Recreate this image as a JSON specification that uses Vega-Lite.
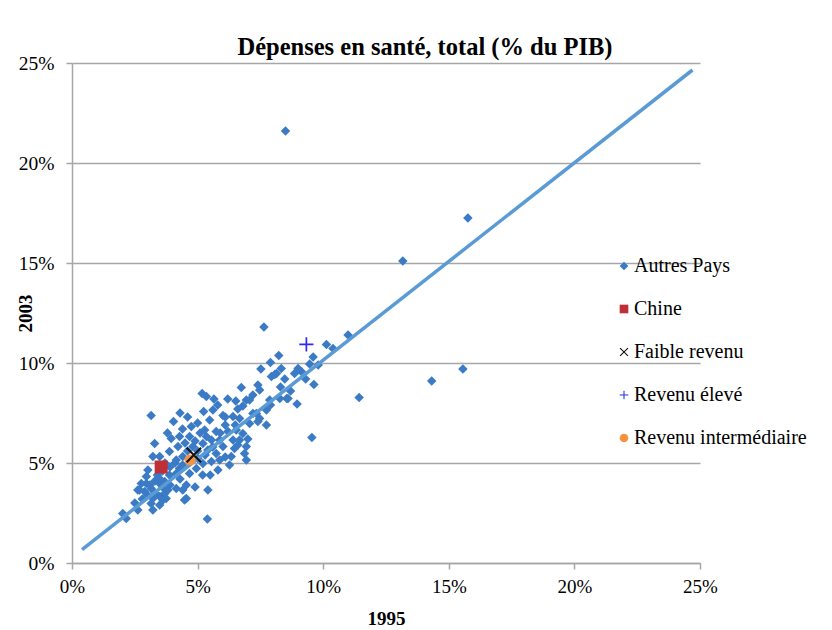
{
  "$schema": "https://vega.github.io/schema/vega-lite/v6.json",
  "width": 628,
  "height": 500,
  "autosize": {"type": "none"},
  "padding": {"left": 72, "top": 63, "right": 132, "bottom": 67},
  "background": "white",
  "config": {
    "view": {"stroke": null},
    "font": "Liberation Serif"
  },
  "title": {
    "text": "Dépenses en santé, total (% du PIB)",
    "font": "Liberation Serif",
    "fontSize": 24.5,
    "fontWeight": "bold",
    "color": "black",
    "anchor": "middle",
    "dx": 39,
    "offset": -7
  },
  "datasets": {
    "points": [
      {"groupe": "Autres Pays", "x1995": 8.5, "y2003": 21.6},
      {"groupe": "Autres Pays", "x1995": 15.76, "y2003": 17.25},
      {"groupe": "Autres Pays", "x1995": 13.17, "y2003": 15.1},
      {"groupe": "Autres Pays", "x1995": 14.32, "y2003": 9.1},
      {"groupe": "Autres Pays", "x1995": 15.56, "y2003": 9.7},
      {"groupe": "Autres Pays", "x1995": 11.43, "y2003": 8.27},
      {"groupe": "Autres Pays", "x1995": 9.55, "y2003": 6.27},
      {"groupe": "Autres Pays", "x1995": 10.99, "y2003": 11.4},
      {"groupe": "Autres Pays", "x1995": 10.13, "y2003": 10.93},
      {"groupe": "Autres Pays", "x1995": 10.39, "y2003": 10.73},
      {"groupe": "Autres Pays", "x1995": 7.64, "y2003": 11.8},
      {"groupe": "Autres Pays", "x1995": 5.39, "y2003": 2.2},
      {"groupe": "Autres Pays", "x1995": 3.15, "y2003": 7.37},
      {"groupe": "Autres Pays", "x1995": 8.23, "y2003": 10.37},
      {"groupe": "Autres Pays", "x1995": 7.9, "y2003": 10.03},
      {"groupe": "Autres Pays", "x1995": 9.6, "y2003": 10.3},
      {"groupe": "Autres Pays", "x1995": 9.46, "y2003": 9.95},
      {"groupe": "Autres Pays", "x1995": 7.52, "y2003": 9.7},
      {"groupe": "Autres Pays", "x1995": 8.33, "y2003": 9.73},
      {"groupe": "Autres Pays", "x1995": 8.07, "y2003": 9.42},
      {"groupe": "Autres Pays", "x1995": 8.47, "y2003": 9.2},
      {"groupe": "Autres Pays", "x1995": 9.0, "y2003": 9.73},
      {"groupe": "Autres Pays", "x1995": 9.13, "y2003": 9.57},
      {"groupe": "Autres Pays", "x1995": 8.86, "y2003": 9.48},
      {"groupe": "Autres Pays", "x1995": 9.63, "y2003": 8.92},
      {"groupe": "Autres Pays", "x1995": 7.4, "y2003": 8.9},
      {"groupe": "Autres Pays", "x1995": 7.47, "y2003": 8.65},
      {"groupe": "Autres Pays", "x1995": 6.74, "y2003": 8.78},
      {"groupe": "Autres Pays", "x1995": 7.2, "y2003": 8.4},
      {"groupe": "Autres Pays", "x1995": 6.52, "y2003": 8.1},
      {"groupe": "Autres Pays", "x1995": 6.94, "y2003": 8.15},
      {"groupe": "Autres Pays", "x1995": 6.8, "y2003": 7.85},
      {"groupe": "Autres Pays", "x1995": 7.87, "y2003": 8.15},
      {"groupe": "Autres Pays", "x1995": 8.27, "y2003": 8.23},
      {"groupe": "Autres Pays", "x1995": 8.55, "y2003": 8.23},
      {"groupe": "Autres Pays", "x1995": 8.96, "y2003": 7.95},
      {"groupe": "Autres Pays", "x1995": 7.74, "y2003": 7.65},
      {"groupe": "Autres Pays", "x1995": 7.47, "y2003": 7.23},
      {"groupe": "Autres Pays", "x1995": 7.74, "y2003": 6.9},
      {"groupe": "Autres Pays", "x1995": 7.2, "y2003": 7.48},
      {"groupe": "Autres Pays", "x1995": 7.07, "y2003": 6.98},
      {"groupe": "Autres Pays", "x1995": 6.67, "y2003": 7.23},
      {"groupe": "Autres Pays", "x1995": 6.41, "y2003": 7.32},
      {"groupe": "Autres Pays", "x1995": 5.18, "y2003": 8.48},
      {"groupe": "Autres Pays", "x1995": 5.35, "y2003": 8.32},
      {"groupe": "Autres Pays", "x1995": 5.65, "y2003": 8.2},
      {"groupe": "Autres Pays", "x1995": 5.24, "y2003": 7.57},
      {"groupe": "Autres Pays", "x1995": 5.61, "y2003": 7.65},
      {"groupe": "Autres Pays", "x1995": 5.48, "y2003": 7.15},
      {"groupe": "Autres Pays", "x1995": 6.01, "y2003": 7.37},
      {"groupe": "Autres Pays", "x1995": 7.94, "y2003": 9.32},
      {"groupe": "Autres Pays", "x1995": 8.14, "y2003": 9.48},
      {"groupe": "Autres Pays", "x1995": 8.6, "y2003": 8.23},
      {"groupe": "Autres Pays", "x1995": 7.07, "y2003": 8.15},
      {"groupe": "Autres Pays", "x1995": 7.34, "y2003": 7.48},
      {"groupe": "Autres Pays", "x1995": 7.4, "y2003": 7.07},
      {"groupe": "Autres Pays", "x1995": 4.04, "y2003": 7.07},
      {"groupe": "Autres Pays", "x1995": 4.75, "y2003": 6.82},
      {"groupe": "Autres Pays", "x1995": 5.28, "y2003": 6.65},
      {"groupe": "Autres Pays", "x1995": 5.74, "y2003": 6.57},
      {"groupe": "Autres Pays", "x1995": 6.21, "y2003": 6.57},
      {"groupe": "Autres Pays", "x1995": 6.54, "y2003": 6.65},
      {"groupe": "Autres Pays", "x1995": 6.8, "y2003": 6.48},
      {"groupe": "Autres Pays", "x1995": 6.67, "y2003": 6.15},
      {"groupe": "Autres Pays", "x1995": 6.94, "y2003": 5.82},
      {"groupe": "Autres Pays", "x1995": 6.87, "y2003": 5.48},
      {"groupe": "Autres Pays", "x1995": 6.94, "y2003": 5.15},
      {"groupe": "Autres Pays", "x1995": 6.41, "y2003": 6.15},
      {"groupe": "Autres Pays", "x1995": 6.47, "y2003": 5.73},
      {"groupe": "Autres Pays", "x1995": 6.34, "y2003": 5.32},
      {"groupe": "Autres Pays", "x1995": 6.27, "y2003": 4.9},
      {"groupe": "Autres Pays", "x1995": 5.88, "y2003": 6.15},
      {"groupe": "Autres Pays", "x1995": 6.01, "y2003": 5.82},
      {"groupe": "Autres Pays", "x1995": 5.74, "y2003": 5.48},
      {"groupe": "Autres Pays", "x1995": 5.88, "y2003": 5.15},
      {"groupe": "Autres Pays", "x1995": 5.55, "y2003": 6.15},
      {"groupe": "Autres Pays", "x1995": 5.35, "y2003": 6.32},
      {"groupe": "Autres Pays", "x1995": 5.21, "y2003": 5.98},
      {"groupe": "Autres Pays", "x1995": 5.41, "y2003": 5.65},
      {"groupe": "Autres Pays", "x1995": 5.55, "y2003": 5.07},
      {"groupe": "Autres Pays", "x1995": 5.81, "y2003": 4.65},
      {"groupe": "Autres Pays", "x1995": 5.41, "y2003": 3.65},
      {"groupe": "Autres Pays", "x1995": 4.68, "y2003": 6.32},
      {"groupe": "Autres Pays", "x1995": 4.81, "y2003": 5.82},
      {"groupe": "Autres Pays", "x1995": 4.28, "y2003": 6.32},
      {"groupe": "Autres Pays", "x1995": 3.95, "y2003": 6.23},
      {"groupe": "Autres Pays", "x1995": 4.22, "y2003": 5.82},
      {"groupe": "Autres Pays", "x1995": 3.29, "y2003": 5.98},
      {"groupe": "Autres Pays", "x1995": 3.22, "y2003": 5.32},
      {"groupe": "Autres Pays", "x1995": 3.49, "y2003": 5.32},
      {"groupe": "Autres Pays", "x1995": 3.88, "y2003": 5.57},
      {"groupe": "Autres Pays", "x1995": 4.15, "y2003": 5.15},
      {"groupe": "Autres Pays", "x1995": 4.41, "y2003": 5.32},
      {"groupe": "Autres Pays", "x1995": 5.01, "y2003": 5.23},
      {"groupe": "Autres Pays", "x1995": 5.21, "y2003": 4.98},
      {"groupe": "Autres Pays", "x1995": 4.95, "y2003": 4.73},
      {"groupe": "Autres Pays", "x1995": 4.68, "y2003": 4.48},
      {"groupe": "Autres Pays", "x1995": 3.02, "y2003": 4.65},
      {"groupe": "Autres Pays", "x1995": 2.96, "y2003": 4.32},
      {"groupe": "Autres Pays", "x1995": 2.76, "y2003": 3.98},
      {"groupe": "Autres Pays", "x1995": 2.62, "y2003": 3.65},
      {"groupe": "Autres Pays", "x1995": 2.89, "y2003": 3.57},
      {"groupe": "Autres Pays", "x1995": 3.15, "y2003": 3.73},
      {"groupe": "Autres Pays", "x1995": 3.49, "y2003": 3.98},
      {"groupe": "Autres Pays", "x1995": 3.69, "y2003": 4.07},
      {"groupe": "Autres Pays", "x1995": 3.88, "y2003": 4.4},
      {"groupe": "Autres Pays", "x1995": 4.15, "y2003": 4.48},
      {"groupe": "Autres Pays", "x1995": 4.28, "y2003": 4.73},
      {"groupe": "Autres Pays", "x1995": 3.22, "y2003": 3.23},
      {"groupe": "Autres Pays", "x1995": 3.49, "y2003": 3.32},
      {"groupe": "Autres Pays", "x1995": 3.69, "y2003": 3.48},
      {"groupe": "Autres Pays", "x1995": 3.15, "y2003": 2.98},
      {"groupe": "Autres Pays", "x1995": 3.22, "y2003": 2.65},
      {"groupe": "Autres Pays", "x1995": 3.62, "y2003": 3.15},
      {"groupe": "Autres Pays", "x1995": 3.82, "y2003": 3.65},
      {"groupe": "Autres Pays", "x1995": 4.55, "y2003": 3.9},
      {"groupe": "Autres Pays", "x1995": 4.41, "y2003": 3.65},
      {"groupe": "Autres Pays", "x1995": 4.55, "y2003": 3.23},
      {"groupe": "Autres Pays", "x1995": 4.15, "y2003": 3.73},
      {"groupe": "Autres Pays", "x1995": 2.62, "y2003": 2.65},
      {"groupe": "Autres Pays", "x1995": 2.02, "y2003": 2.48},
      {"groupe": "Autres Pays", "x1995": 2.16, "y2003": 2.23},
      {"groupe": "Autres Pays", "x1995": 4.48, "y2003": 3.15},
      {"groupe": "Autres Pays", "x1995": 2.69, "y2003": 3.65},
      {"groupe": "Autres Pays", "x1995": 2.96, "y2003": 3.98},
      {"groupe": "Autres Pays", "x1995": 3.75, "y2003": 3.23},
      {"groupe": "Autres Pays", "x1995": 3.49, "y2003": 2.9},
      {"groupe": "Autres Pays", "x1995": 4.5, "y2003": 6.0},
      {"groupe": "Autres Pays", "x1995": 4.9, "y2003": 6.1},
      {"groupe": "Autres Pays", "x1995": 5.1, "y2003": 6.5},
      {"groupe": "Autres Pays", "x1995": 4.6, "y2003": 5.6},
      {"groupe": "Autres Pays", "x1995": 5.0, "y2003": 5.6},
      {"groupe": "Autres Pays", "x1995": 5.3, "y2003": 5.4},
      {"groupe": "Autres Pays", "x1995": 5.6, "y2003": 5.8},
      {"groupe": "Autres Pays", "x1995": 5.9, "y2003": 6.5},
      {"groupe": "Autres Pays", "x1995": 6.1, "y2003": 6.9},
      {"groupe": "Autres Pays", "x1995": 5.0, "y2003": 7.0},
      {"groupe": "Autres Pays", "x1995": 4.4, "y2003": 6.7},
      {"groupe": "Autres Pays", "x1995": 3.7, "y2003": 5.0},
      {"groupe": "Autres Pays", "x1995": 3.9, "y2003": 4.8},
      {"groupe": "Autres Pays", "x1995": 4.1, "y2003": 5.0},
      {"groupe": "Autres Pays", "x1995": 4.4, "y2003": 4.9},
      {"groupe": "Autres Pays", "x1995": 3.4, "y2003": 4.4},
      {"groupe": "Autres Pays", "x1995": 3.6, "y2003": 4.6},
      {"groupe": "Autres Pays", "x1995": 3.3, "y2003": 4.1},
      {"groupe": "Autres Pays", "x1995": 3.1, "y2003": 3.9},
      {"groupe": "Autres Pays", "x1995": 3.0, "y2003": 3.4},
      {"groupe": "Autres Pays", "x1995": 3.3, "y2003": 3.5},
      {"groupe": "Autres Pays", "x1995": 3.9, "y2003": 3.9},
      {"groupe": "Autres Pays", "x1995": 4.3, "y2003": 4.2},
      {"groupe": "Autres Pays", "x1995": 2.8, "y2003": 3.2},
      {"groupe": "Autres Pays", "x1995": 2.5, "y2003": 3.0},
      {"groupe": "Autres Pays", "x1995": 3.6, "y2003": 3.8},
      {"groupe": "Autres Pays", "x1995": 6.1, "y2003": 7.3},
      {"groupe": "Autres Pays", "x1995": 6.6, "y2003": 7.7},
      {"groupe": "Autres Pays", "x1995": 6.2, "y2003": 8.2},
      {"groupe": "Autres Pays", "x1995": 5.8, "y2003": 7.9},
      {"groupe": "Autres Pays", "x1995": 4.3, "y2003": 7.5},
      {"groupe": "Autres Pays", "x1995": 3.8, "y2003": 6.5},
      {"groupe": "Autres Pays", "x1995": 4.6, "y2003": 7.3},
      {"groupe": "Autres Pays", "x1995": 3.5, "y2003": 4.2},
      {"groupe": "Autres Pays", "x1995": 5.5, "y2003": 4.4},
      {"groupe": "Autres Pays", "x1995": 6.1, "y2003": 5.3},
      {"groupe": "Autres Pays", "x1995": 6.6, "y2003": 5.9},
      {"groupe": "Autres Pays", "x1995": 7.0, "y2003": 6.2},
      {"groupe": "Autres Pays", "x1995": 6.5, "y2003": 6.9},
      {"groupe": "Autres Pays", "x1995": 7.9, "y2003": 7.9},
      {"groupe": "Autres Pays", "x1995": 8.7, "y2003": 8.6},
      {"groupe": "Autres Pays", "x1995": 9.3, "y2003": 9.2},
      {"groupe": "Autres Pays", "x1995": 9.8, "y2003": 9.9},
      {"groupe": "Autres Pays", "x1995": 8.3, "y2003": 8.8},
      {"groupe": "Autres Pays", "x1995": 5.2, "y2003": 4.4},
      {"groupe": "Autres Pays", "x1995": 4.9, "y2003": 3.8},
      {"groupe": "Chine", "x1995": 3.55, "y2003": 4.8},
      {"groupe": "Revenu intermédiaire", "x1995": 4.7, "y2003": 5.15},
      {"groupe": "Faible revenu", "x1995": 4.85, "y2003": 5.4},
      {"groupe": "Revenu élevé", "x1995": 9.33, "y2003": 10.93}
    ],
    "trend": [
      {"x1995": 0.4, "y2003": 0.67},
      {"x1995": 24.7, "y2003": 24.65}
    ]
  },
  "encoding": {
    "x": {
      "field": "x1995",
      "type": "quantitative",
      "scale": {"domain": [0, 25], "nice": false, "zero": false},
      "axis": {
        "title": "1995",
        "values": [0, 5, 10, 15, 20, 25],
        "labelExpr": "datum.value + '%'",
        "grid": false,
        "domainColor": "#a6a6a6",
        "domainWidth": 1.5,
        "tickColor": "#a6a6a6",
        "tickWidth": 1.5,
        "tickSize": 6,
        "labelFont": "Liberation Serif",
        "labelFontSize": 19,
        "labelColor": "black",
        "labelPadding": 8,
        "labelFlush": false,
        "titleFont": "Liberation Serif",
        "titleFontSize": 19,
        "titleFontWeight": "bold",
        "titleColor": "black",
        "titlePadding": 13
      }
    },
    "y": {
      "field": "y2003",
      "type": "quantitative",
      "scale": {"domain": [0, 25], "nice": false, "zero": false},
      "axis": {
        "title": "2003",
        "values": [0, 5, 10, 15, 20, 25],
        "labelExpr": "datum.value + '%'",
        "grid": true,
        "gridColor": "#a6a6a6",
        "gridWidth": 1.5,
        "domainColor": "#a6a6a6",
        "domainWidth": 1.5,
        "tickColor": "#a6a6a6",
        "tickWidth": 1.5,
        "tickSize": 6,
        "labelFont": "Liberation Serif",
        "labelFontSize": 19.5,
        "labelColor": "black",
        "labelPadding": 12,
        "labelFlush": false,
        "titleFont": "Liberation Serif",
        "titleFontSize": 19,
        "titleFontWeight": "bold",
        "titleColor": "black",
        "titleX": -47,
        "titleY": 250,
        "titleBaseline": "middle",
        "titleAlign": "center",
        "titleAngle": -90
      }
    }
  },
  "layer": [
    {
      "data": {"name": "points"},
      "transform": [{"filter": "datum.groupe === 'Autres Pays'"}],
      "mark": {"type": "point", "filled": true, "opacity": 1, "size": 90},
      "encoding": {
        "color": {
          "field": "groupe",
          "type": "nominal",
          "scale": {
            "domain": ["Autres Pays", "Chine", "Faible revenu", "Revenu élevé", "Revenu intermédiaire"],
            "range": ["#3b7bc6", "#be2f37", "#111111", "#2b2bf5", "#f7923f"]
          },
          "legend": {
            "title": null,
            "orient": "none",
            "legendX": 542,
            "legendY": 193,
            "padding": 0,
            "rowPadding": 23,
            "labelFont": "Liberation Serif",
            "labelFontSize": 20,
            "labelColor": "black",
            "labelOffset": 0,
            "labelLimit": 0,
            "symbolSize": 75
          }
        },
        "shape": {
          "field": "groupe",
          "type": "nominal",
          "scale": {
            "domain": ["Autres Pays", "Chine", "Faible revenu", "Revenu élevé", "Revenu intermédiaire"],
            "range": ["diamond", "square", "M-1,-0.82L-0.82,-1L1,0.82L0.82,1Z M1,-0.82L-0.82,1L-1,0.82L0.82,-1Z", "M-0.12,-1H0.12V-0.12H1V0.12H0.12V1H-0.12V0.12H-1V-0.12H-0.12Z", "circle"]
          },
          "legend": {
            "title": null,
            "orient": "none",
            "legendX": 542,
            "legendY": 193,
            "padding": 0,
            "rowPadding": 23,
            "labelFont": "Liberation Serif",
            "labelFontSize": 20,
            "labelColor": "black",
            "labelOffset": 0,
            "labelLimit": 0,
            "symbolSize": 75
          }
        }
      }
    },
    {
      "data": {"name": "trend"},
      "mark": {"type": "line", "color": "#5b9bd5", "strokeWidth": 3.5},
      "encoding": {}
    },
    {
      "data": {"name": "points"},
      "transform": [{"filter": "datum.groupe !== 'Autres Pays'"}],
      "mark": {"type": "point", "filled": true, "opacity": 1},
      "encoding": {
        "color": {"field": "groupe", "type": "nominal"},
        "shape": {"field": "groupe", "type": "nominal"},
        "size": {
          "condition": [
            {"test": "datum.groupe === 'Chine'", "value": 170},
            {"test": "datum.groupe === 'Revenu intermédiaire'", "value": 125},
            {"test": "datum.groupe === 'Faible revenu'", "value": 250}
          ],
          "value": 200
        }
      }
    }
  ]
}
